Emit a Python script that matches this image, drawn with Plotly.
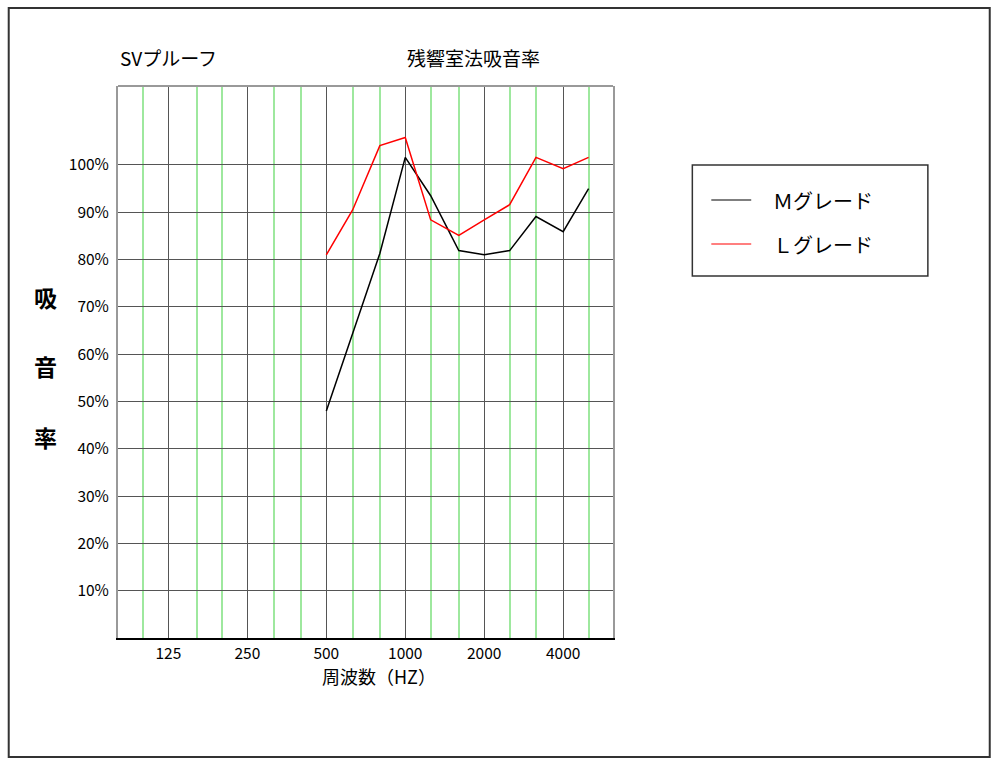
import plotly.graph_objects as go

# 1/3オクターブ帯域 (Hz)
freqs = [500, 630, 800, 1000, 1250, 1600, 2000, 2500, 3150, 4000, 5000]
m_grade = [48.0, 64.5, 81.3, 101.6, 93.5, 81.9, 81.0, 81.9, 89.1, 85.9, 95.0]
l_grade = [81.0, 90.5, 104.1, 105.8, 88.4, 85.1, 88.4, 91.6, 101.6, 99.2, 101.6]

major_freqs = [125, 250, 500, 1000, 2000, 4000]
minor_freqs = [100, 160, 200, 315, 400, 630, 800, 1250, 1600, 2500, 3150, 5000]
y_ticks = [10, 20, 30, 40, 50, 60, 70, 80, 90, 100]
y_labels = [f"{v}%" for v in y_ticks]

FONT = "Noto Sans CJK JP"

# plot area in pixels
L, R, T, B = 117.5, 613.5, 86, 638
W, H = 1000, 764


def px(x):
    return (x - L) / (R - L)


def py(y):
    return (B - y) / (B - T)


fig = go.Figure()
fig.add_trace(go.Scatter(x=freqs, y=m_grade, mode="lines", name="Ｍグレード",
                         line=dict(color="black", width=1.5), showlegend=False))
fig.add_trace(go.Scatter(x=freqs, y=l_grade, mode="lines", name="Ｌグレード",
                         line=dict(color="red", width=1.5), showlegend=False))

shapes = [
    # outer frame
    dict(type="rect", xref="paper", yref="paper", x0=px(8), x1=px(991), y0=py(757), y1=py(8),
         line=dict(color="#333", width=2)),
    # top border of plot
    dict(type="line", xref="paper", yref="paper", x0=0, x1=1, y0=1, y1=1,
         line=dict(color="#999", width=2)),
    # legend box
    dict(type="rect", xref="paper", yref="paper", x0=px(693), x1=px(929), y0=py(276), y1=py(165),
         line=dict(color="#333", width=1.5), fillcolor="white"),
    dict(type="line", xref="paper", yref="paper", x0=px(712), x1=px(752), y0=py(200), y1=py(200),
         line=dict(color="black", width=1.2)),
    dict(type="line", xref="paper", yref="paper", x0=px(712), x1=px(752), y0=py(244), y1=py(244),
         line=dict(color="red", width=1.2)),
]

annotations = [
    dict(text="SVプルーフ", x=px(118), y=py(57), xanchor="left", yanchor="middle", size=19),
    dict(text="残響室法吸音率", x=px(474), y=py(57), xanchor="center", yanchor="middle", size=19),
    dict(text="周波数（HZ）", x=px(379), y=py(676), xanchor="center", yanchor="middle", size=18),
    dict(text="<b>吸</b>", x=px(45), y=py(297), xanchor="center", yanchor="middle", size=23),
    dict(text="<b>音</b>", x=px(45), y=py(366), xanchor="center", yanchor="middle", size=23),
    dict(text="<b>率</b>", x=px(45), y=py(437), xanchor="center", yanchor="middle", size=23),
    dict(text="Ｍグレード", x=px(772), y=py(200), xanchor="left", yanchor="middle", size=20),
    dict(text="Ｌグレード", x=px(772), y=py(244), xanchor="left", yanchor="middle", size=20),
]
fig.update_layout(annotations=[
    dict(text=a["text"], x=a["x"], y=a["y"], xref="paper", yref="paper",
         xanchor=a["xanchor"], yanchor=a["yanchor"], showarrow=False,
         font=dict(family=FONT, size=a["size"], color="black"))
    for a in annotations
])

fig.update_layout(
    width=W, height=H,
    margin=dict(l=L, r=W - R, t=T, b=H - B, pad=0),
    paper_bgcolor="white", plot_bgcolor="white",
    font=dict(family=FONT, size=15, color="black"),
    shapes=shapes,
    xaxis=dict(
        type="log", range=[1.9048, 3.792],
        tickmode="array", tickvals=major_freqs, ticktext=[str(f) for f in major_freqs],
        showgrid=True, gridcolor="#555", gridwidth=1,
        minor=dict(tickmode="array", tickvals=minor_freqs, showgrid=True,
                   gridcolor="#9ee89e", gridwidth=1.5, ticks=""),
        showline=True, linecolor="black", linewidth=2,
        ticks="", ticklabelstandoff=0, zeroline=False,
        tickfont=dict(family=FONT, size=15.5),
    ),
    yaxis=dict(
        range=[0, 116.7],
        tickmode="array", tickvals=y_ticks, ticktext=y_labels,
        showgrid=True, gridcolor="#555", gridwidth=1,
        showline=True, linecolor="#999", linewidth=2, mirror=True,
        ticks="", ticklabelstandoff=4, zeroline=False,
        tickfont=dict(family=FONT, size=15.5),
    ),
)

fig.write_html("out.html", config={"displayModeBar": False},
               post_script="document.body.style.margin='0';")
